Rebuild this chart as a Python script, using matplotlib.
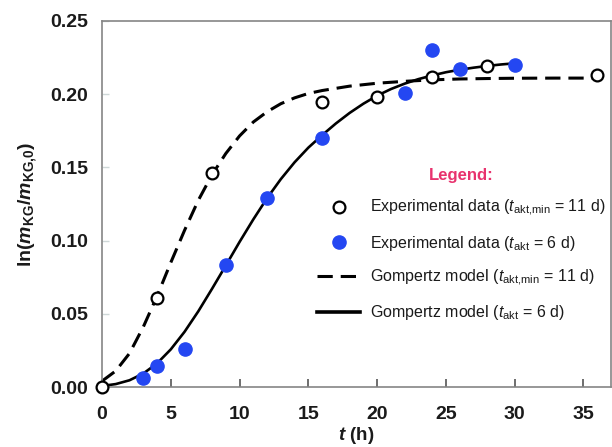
import matplotlib
matplotlib.use("Agg")
import matplotlib.pyplot as plt
from matplotlib.lines import Line2D

# Schrift wie im Original (Arial-aehnlich)
plt.rcParams['font.family'] = ['Liberation Sans', 'DejaVu Sans']
plt.rcParams['mathtext.fontset'] = 'custom'
plt.rcParams['mathtext.rm'] = 'Liberation Sans'
plt.rcParams['mathtext.it'] = 'Liberation Sans:italic'
plt.rcParams['mathtext.bf'] = 'Liberation Sans:bold'
plt.rcParams['mathtext.bfit'] = 'Liberation Sans:italic:bold'

# Messdaten (t_akt,min = 11 d), offene Kreise
t_offen = [0, 4, 8, 16, 20, 24, 28, 36]
y_offen = [0.000, 0.061, 0.146, 0.195, 0.198, 0.212, 0.219, 0.213]

# Messdaten (t_akt = 6 d), blaue Punkte
t_blau = [3, 4, 6, 9, 12, 16, 22, 24, 26, 30]
y_blau = [0.006, 0.0145, 0.026, 0.083, 0.129, 0.170, 0.201, 0.230, 0.217, 0.220]

# Gompertz-Modell (t_akt,min = 11 d), gestrichelt
t_gestr = [0, 1, 2, 3, 4, 5, 6, 7, 8, 9, 10, 11, 12, 13, 14, 15, 16, 18, 20, 22, 24, 26, 28, 30, 33, 36]
y_gestr = [0.004, 0.011, 0.023, 0.041, 0.062, 0.085, 0.107, 0.1275, 0.145, 0.1595, 0.1715, 0.181,
           0.188, 0.1935, 0.1975, 0.2005, 0.2025, 0.2055, 0.2075, 0.2088, 0.2098, 0.2104, 0.2107,
           0.2109, 0.2110, 0.2110]

# Gompertz-Modell (t_akt = 6 d), durchgezogen
t_durch = list(range(0, 31))
y_durch = [0.0007, 0.002, 0.0046, 0.0092, 0.0161, 0.0257, 0.0377, 0.0517, 0.0671, 0.083, 0.0991,
           0.1145, 0.129, 0.142, 0.1535, 0.1635, 0.172, 0.1800, 0.1872, 0.1935, 0.1990, 0.2035,
           0.2072, 0.2103, 0.2128, 0.2150, 0.2167, 0.2181, 0.2193, 0.2203, 0.2211]

blau = '#2447f2'
rosa = '#e8336e'

fig = plt.figure(figsize=(6.12, 4.47), dpi=100)
ax = fig.add_axes([102 / 612, 1 - 387 / 447, 509 / 612, 366 / 447])

ax.plot(t_gestr, y_gestr, color='black', lw=2.2, dashes=(5, 2.6), zorder=2)
ax.plot(t_durch, y_durch, color='black', lw=1.9, zorder=2)
ax.plot(t_blau, y_blau, 'o', color=blau, ms=9.5, mec=blau, zorder=3, clip_on=False)
ax.plot(t_offen, y_offen, 'o', mfc='white', mec='black', mew=1.6, ms=8.5, zorder=4, clip_on=False)

ax.set_xlim(0, 37)
ax.set_ylim(0, 0.25)
ax.set_xticks([0, 5, 10, 15, 20, 25, 30, 35])
ax.set_yticks([0.00, 0.05, 0.10, 0.15, 0.20, 0.25])
ax.set_yticklabels(['0.00', '0.05', '0.10', '0.15', '0.20', '0.25'])

for s in ax.spines.values():
    s.set_color('#858585')
    s.set_linewidth(1.2)

ax.tick_params(axis='x', direction='in', length=6, width=1.2, color='#555555',
               pad=14, labelsize=14, labelcolor='#1a1a1a')
ax.tick_params(axis='y', direction='in', length=5, width=1, color='#cfd8d8',
               pad=10, labelsize=14, labelcolor='#1a1a1a')
for lab in ax.get_xticklabels() + ax.get_yticklabels():
    lab.set_fontweight('bold')

ax.set_xlabel(r'$\mathbfit{t}$ (h)', fontsize=13.5, fontweight='bold', color='#1a1a1a', labelpad=1)
ax.set_ylabel(r'ln($\mathbfit{m}_{\mathbf{KG}}$/$\mathbfit{m}_{\mathbf{KG{,}0}}$)',
              fontsize=14, fontweight='bold', color='#1a1a1a', labelpad=8)

# Legende
handles = [
    Line2D([], [], ls='none', marker='o', mfc='white', mec='black', mew=1.6, ms=8.5),
    Line2D([], [], ls='none', marker='o', color=blau, ms=9.5),
    Line2D([], [], color='black', lw=2.2, dashes=(5, 2.6)),
    Line2D([], [], color='black', lw=2.6),
]
labels = [
    r'Experimental data ($t_{\mathrm{akt{,}min}}$ = 11 d)',
    r'Experimental data ($t_{\mathrm{akt}}$ = 6 d)',
    r'Gompertz model ($t_{\mathrm{akt{,}min}}$ = 11 d)',
    r'Gompertz model ($t_{\mathrm{akt}}$ = 6 d)',
]
leg = ax.legend(handles, labels, loc='upper left', bbox_to_anchor=(317 / 612, 1 - 168 / 447),
                bbox_transform=fig.transFigure, frameon=False, fontsize=11.5,
                borderpad=0, borderaxespad=0, handlelength=2.7, handletextpad=0.6,
                labelspacing=0.95, title='Legend:',
                title_fontproperties={'weight': 'bold', 'size': 12})
leg.get_title().set_color(rosa)
for txt in leg.get_texts():
    txt.set_color('#1a1a1a')

fig.savefig('out.png', dpi=100)
